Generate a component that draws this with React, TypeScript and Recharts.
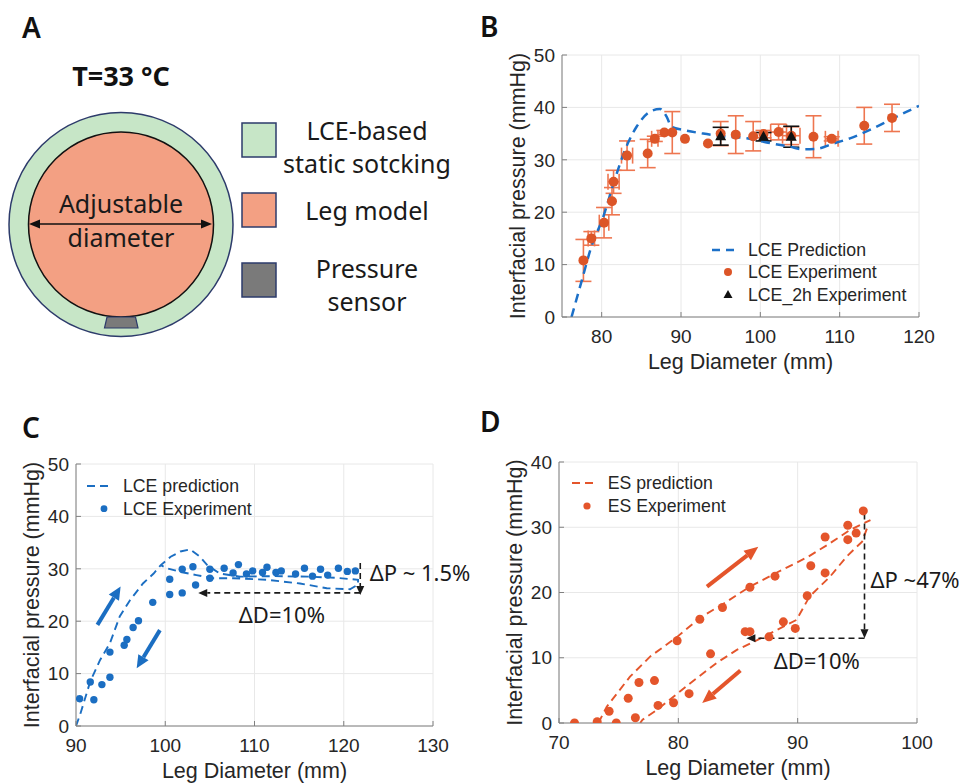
import React from "react";
import {
  ComposedChart,
  Line,
  Scatter,
  XAxis,
  YAxis,
  CartesianGrid,
  ErrorBar,
  ReferenceLine,
  ReferenceDot,
  Legend,
} from "recharts";

const FONT = "'Liberation Sans', Arial, Helvetica, sans-serif";
const ANNO_FONT = "'Noto Sans', 'Open Sans', sans-serif";
const INK = "#262626";

// ---------- panel B : LCE stocking, interfacial pressure vs leg diameter ----------
const bExpX = [77.7, 78.7, 80.3, 81.3, 81.5, 83.2, 85.8, 86.7, 87.9, 88.9, 90.5, 93.4, 95.0, 96.9, 99.1, 100.4, 102.3, 103.9, 106.7, 109.0, 113.1, 116.6];
const bExpY = [10.8, 15.0, 18.0, 22.1, 25.8, 30.8, 31.2, 34.0, 35.2, 35.2, 34.0, 33.1, 35.0, 34.8, 34.5, 34.9, 35.3, 34.6, 34.4, 34.0, 36.5, 38.0];
const bExpErrY = [4.0, 1.3, 2.9, 2.6, 2.2, 2.8, 2.7, 0.5, 0.4, 4.0, 0, 0, 2.3, 3.6, 2.8, 0.7, 1.5, 1.7, 4.0, 0.4, 3.5, 2.6];
const bExpErrX = [0, 0.4, 0.6, 0, 0.7, 0.7, 0, 0.4, 0, 0, 0, 0, 0, 0, 0, 0, 1.0, 1.1, 0, 0.8, 0, 0];

const b2hX = [95.0, 100.4, 103.9];
const b2hY = [34.5, 34.4, 34.4];
const b2hErrY = [1.7, 0.8, 2.0];

const bPredX = [76.2, 77.5, 78.7, 80.2, 81.5, 83.2, 84.4, 86.1, 87.35, 88.2, 88.8, 90.3, 92.8, 95.3, 98.3, 101.2, 103.7, 105.4, 107.1, 109.2, 111.3, 113.8, 116.7, 120.0];
const bPredY = [0.0, 7.0, 13.4, 19.1, 25.5, 32.8, 36.3, 39.2, 39.7, 38.2, 36.3, 35.7, 35.0, 34.5, 34.1, 33.2, 32.5, 32.0, 32.1, 33.1, 34.1, 35.7, 37.9, 40.3];

// ---------- panel C : LCE loading / unloading ----------
const cExpX = [90.4, 91.6, 92.0, 92.9, 93.8, 93.8, 95.4, 95.7, 96.4, 97.0, 98.6, 100.5, 100.5, 101.9, 101.9, 103.1, 103.4, 105.0, 105.0, 106.6, 107.6, 108.2, 109.1, 109.8, 110.9, 111.4, 112.4, 113.0, 114.6, 115.6, 116.5, 117.4, 118.2, 119.4, 120.4, 121.3];
const cExpY = [5.2, 8.4, 5.0, 7.9, 14.1, 9.3, 15.4, 16.5, 18.8, 20.1, 23.6, 28.0, 25.1, 29.9, 25.4, 30.4, 26.9, 29.9, 28.2, 30.1, 29.2, 30.8, 29.0, 29.6, 29.3, 30.3, 29.3, 29.6, 29.0, 30.1, 28.6, 29.9, 28.8, 30.1, 29.5, 29.6];

const cPredX = [90.0, 90.5, 91.6, 92.7, 93.8, 94.9, 96.05, 97.5, 98.7, 99.5, 100.6, 101.7, 102.8, 103.9, 104.7, 106.1, 108.4, 112.0, 116.0, 119.0, 121.6, 121.6, 120.7, 118.1, 115.1, 111.4, 107.6, 105.4, 103.5, 101.7, 100.2, 99.5];
const cPredY = [0.0, 2.4, 8.5, 12.6, 15.8, 20.9, 24.0, 27.2, 29.1, 30.7, 32.3, 33.3, 33.7, 32.3, 30.7, 29.1, 28.5, 28.6, 28.5, 28.3, 27.9, 27.0, 26.1, 26.3, 27.2, 27.9, 28.2, 28.2, 28.8, 29.4, 30.1, 30.7];

// ---------- panel D : elastic stocking loading / unloading ----------
const dExpX = [71.3, 73.2, 74.2, 74.8, 75.8, 76.4, 76.7, 78.0, 78.3, 79.6, 79.9, 80.9, 81.8, 82.7, 83.7, 85.6, 86.0, 86.0, 87.6, 88.1, 88.8, 89.8, 90.8, 91.1, 92.3, 92.3, 94.2, 94.2, 94.9, 95.5];
const dExpY = [0.0, 0.2, 1.8, 0.0, 3.8, 0.8, 6.2, 6.5, 2.7, 3.1, 12.6, 4.5, 15.9, 10.6, 17.7, 14.0, 14.0, 20.8, 13.2, 22.5, 15.5, 14.5, 19.5, 24.1, 23.0, 28.5, 30.3, 28.1, 29.1, 32.5];

const dUpX = [73.3, 74.0, 75.95, 77.65, 79.9, 81.8, 83.8, 86.0, 88.3, 90.8, 92.5, 94.4, 96.1];
const dUpY = [0.0, 2.5, 7.1, 10.2, 13.2, 16.1, 18.3, 20.9, 23.1, 25.4, 27.3, 29.6, 31.1];
const dDownX = [95.8, 95.4, 94.1, 92.7, 91.0, 89.9, 88.3, 86.6, 84.9, 83.2, 81.0, 79.3, 78.2, 77.0, 76.8];
const dDownY = [29.8, 27.8, 25.5, 22.4, 19.4, 15.8, 14.3, 12.7, 11.2, 9.2, 6.1, 3.6, 2.0, 0.5, 0.0];

// annotations (data coordinates)
const cArrowUp = [{ x: 92.4, y: 19.3 }, { x: 95.0, y: 26.6 }];
const cArrowDown = [{ x: 99.4, y: 18.3 }, { x: 96.8, y: 11.0 }];
const cDeltaP = [{ x: 121.85, y: 31.1 }, { x: 121.85, y: 25.0 }];
const cDeltaD = [{ x: 121.85, y: 25.4 }, { x: 103.7, y: 25.4 }];
const dArrowUp = [{ x: 82.4, y: 20.9 }, { x: 86.7, y: 27.0 }];
const dArrowDown = [{ x: 85.2, y: 8.05 }, { x: 82.0, y: 3.06 }];
const dDeltaP = [{ x: 95.6, y: 32.1 }, { x: 95.6, y: 13.0 }];
const dDeltaD = [{ x: 95.6, y: 13.0 }, { x: 85.7, y: 13.0 }];

const zip = (xs: number[], ys: number[], extra?: Record<string, number[]>) =>
  xs.map((x, i) => {
    const row: Record<string, number> = { x, y: ys[i] };
    if (extra) Object.keys(extra).forEach((k) => (row[k] = extra[k][i]));
    return row;
  });

const bExp = zip(bExpX, bExpY, { ey: bExpErrY, ex: bExpErrX });
const b2h = zip(b2hX, b2hY, { ey: b2hErrY });
const bPred = zip(bPredX, bPredY);
const cExp = zip(cExpX, cExpY);
const cPred = zip(cPredX, cPredY);
const dExp = zip(dExpX, dExpY);
const dUp = zip(dUpX, dUpY);
const dDown = zip(dDownX, dDownY);

const B_ORANGE = "#DC5528";
const B_ERR = "#EE7650";
const B_BLUE = "#1C70C8";
const C_BLUE = "#1B6EC2";
const D_ORANGE = "#E4552B";

const dot = (r: number, color: string) => (p: any) =>
  p.cx == null ? <g /> : <circle cx={p.cx} cy={p.cy} r={r} fill={color} />;

const tri = (p: any) =>
  p.cx == null ? (
    <g />
  ) : (
    <polygon
      points={`${p.cx},${p.cy - 6} ${p.cx + 5.5},${p.cy + 4} ${p.cx - 5.5},${p.cy + 4}`}
      fill="#111"
    />
  );

const arrow = (color: string, w: number, dash: string | undefined, headLen: number, headW: number) => (p: any) => {
  const { x1, y1, x2, y2 } = p;
  if ([x1, y1, x2, y2].some((v) => v == null || isNaN(v))) return <g />;
  const a = Math.atan2(y2 - y1, x2 - x1);
  const bx = x2 - headLen * Math.cos(a);
  const by = y2 - headLen * Math.sin(a);
  const nx = (-Math.sin(a) * headW) / 2;
  const ny = (Math.cos(a) * headW) / 2;
  return (
    <g>
      <line x1={x1} y1={y1} x2={bx} y2={by} stroke={color} strokeWidth={w} strokeDasharray={dash} />
      <polygon points={`${x2},${y2} ${bx + nx},${by + ny} ${bx - nx},${by - ny}`} fill={color} />
    </g>
  );
};

const blackArrow = arrow("#1a1a1a", 1.6, "6 4", 9, 8);

const xTitle = (p: any) => {
  const vb = p.viewBox || {};
  const cx = vb.x + vb.width / 2;
  return (
    <text x={cx} y={vb.y + 45} textAnchor="middle" dominantBaseline="central" fontSize={21.5} fontFamily={FONT} fill={INK}>
      Leg Diameter (mm)
    </text>
  );
};

const yTitle = (p: any) => {
  const vb = p.viewBox || {};
  const cx = vb.x + vb.width - 44;
  const cy = vb.y + vb.height / 2;
  return (
    <text
      x={cx}
      y={cy}
      transform={`rotate(-90 ${cx} ${cy})`}
      textAnchor="middle"
      dominantBaseline="central"
      fontSize={21.5}
      fontFamily={FONT}
      fill={INK}
    >
      Interfacial pressure (mmHg)
    </text>
  );
};

const tickStyle = { fontSize: 19, fill: INK, fontFamily: FONT };
const axisStroke = { stroke: "#808080" };
const xAxisStyle = { tick: tickStyle, tickSize: -5, tickMargin: 18, axisLine: axisStroke, tickLine: axisStroke };
const yAxisStyle = { tick: tickStyle, tickSize: -5, tickMargin: 12, axisLine: axisStroke, tickLine: axisStroke };

const legendText = (x: number, y: number, s: string) => (
  <text x={x} y={y} dominantBaseline="central" fontSize={17.7} fontFamily={FONT} fill={INK}>
    {s}
  </text>
);

const BLegend = () => (
  <svg width={250} height={72}>
    <line x1={7} y1={14} x2={33} y2={14} stroke={B_BLUE} strokeWidth={2.5} strokeDasharray="8 6" />
    {legendText(43, 14, "LCE Prediction")}
    <circle cx={23} cy={36} r={4} fill={B_ORANGE} />
    {legendText(43, 36, "LCE Experiment")}
    <polygon points="23,54 27.5,62 18.5,62" fill="#111" />
    {legendText(43, 59, "LCE_2h Experiment")}
  </svg>
);

const CLegend = () => (
  <svg width={220} height={50}>
    <line x1={7} y1={16} x2={33} y2={16} stroke={C_BLUE} strokeWidth={2} strokeDasharray="8 5" />
    {legendText(43, 16, "LCE prediction")}
    <circle cx={24} cy={38.7} r={3.4} fill={C_BLUE} />
    {legendText(43, 38.7, "LCE Experiment")}
  </svg>
);

const DLegend = () => (
  <svg width={220} height={50}>
    <line x1={7} y1={15} x2={32} y2={15} stroke={D_ORANGE} strokeWidth={2} strokeDasharray="8 5" />
    {legendText(42.7, 15, "ES prediction")}
    <circle cx={22} cy={38} r={3.6} fill={D_ORANGE} />
    {legendText(42.7, 38, "ES Experiment")}
  </svg>
);

const annoLabel = (value: string, position: "center" | "right") => ({
  value,
  position,
  offset: 0,
  fontSize: 22,
  fontFamily: ANNO_FONT,
  fill: "#1a1a1a",
});

function PanelA() {
  const boxes = [
    { y: 123, fill: "#c7e6c7" },
    { y: 193, fill: "#f3a083" },
    { y: 263, fill: "#7a7a7a" },
  ];
  const txt = { fontSize: 25, fontFamily: ANNO_FONT, fill: "#1a1a1a", textAnchor: "middle" as const };
  return (
    <svg width={470} height={400} style={{ position: "absolute", left: 0, top: 0 }}>
      <text x={22} y={38} fontSize={28} fontWeight={600} fontFamily={ANNO_FONT} fill="#111">A</text>
      <text x={121} y={86} textAnchor="middle" fontSize={27} fontWeight={700} fontFamily={ANNO_FONT} fill="#111">
        T=33 °C
      </text>
      <circle cx={121} cy={224.5} r={112} fill="#c7e6c7" stroke="#2d3b6b" strokeWidth={1.5} />
      <circle cx={121} cy={224.5} r={92.5} fill="#f3a083" stroke="#111" strokeWidth={1.5} />
      <polygon points="107,317 135.5,317 138,328 104.5,328" fill="#7a7a7a" stroke="#2d3b6b" strokeWidth={1.2} />
      <line x1={38} y1={224} x2={203} y2={224} stroke="#111" strokeWidth={1.6} />
      <polygon points="29,224 40,219.5 40,228.5" fill="#111" />
      <polygon points="212,224 201,219.5 201,228.5" fill="#111" />
      <text x={121} y={213} {...txt}>Adjustable</text>
      <text x={121} y={247} {...txt}>diameter</text>
      {boxes.map((b) => (
        <rect key={b.y} x={242} y={b.y} width={34} height={34} fill={b.fill} stroke="#2d3b6b" strokeWidth={1.5} />
      ))}
      <text x={367} y={140} {...txt}>LCE-based</text>
      <text x={367} y={173} {...txt}>static sotcking</text>
      <text x={367} y={220} {...txt}>Leg model</text>
      <text x={367} y={278} {...txt}>Pressure</text>
      <text x={367} y={311} {...txt}>sensor</text>
    </svg>
  );
}

const letter = (s: string, x: number, y: number) => (
  <div
    style={{
      position: "absolute",
      left: x,
      top: y,
      fontSize: 28,
      fontWeight: 600,
      fontFamily: ANNO_FONT,
      color: "#111",
      lineHeight: "28px",
    }}
  >
    {s}
  </div>
);

function PanelB() {
  return (
    <div style={{ position: "absolute", left: 470, top: 0 }}>
      <ComposedChart width={489} height={400} margin={{ top: 55, right: 40, bottom: 23, left: 32 }}>
        <CartesianGrid stroke="#e8e8e8" />
        <XAxis type="number" dataKey="x" domain={[75, 120]} ticks={[80, 90, 100, 110, 120]} allowDataOverflow height={60} {...xAxisStyle} label={xTitle} />
        <YAxis type="number" dataKey="y" domain={[0, 50]} ticks={[0, 10, 20, 30, 40, 50]} allowDataOverflow width={60} {...yAxisStyle} label={yTitle} />
        <Scatter data={bExp} fill={B_ORANGE} shape={dot(5, B_ORANGE)} isAnimationActive={false}>
          <ErrorBar dataKey="ey" direction="y" width={8} stroke={B_ERR} strokeWidth={1.6} />
          <ErrorBar dataKey="ex" direction="x" width={8} stroke={B_ERR} strokeWidth={1.6} />
        </Scatter>
        <Scatter data={b2h} fill="#111" shape={tri} isAnimationActive={false}>
          <ErrorBar dataKey="ey" direction="y" width={8} stroke="#111" strokeWidth={1.6} />
        </Scatter>
        <Line data={bPred} dataKey="y" type="monotone" stroke={B_BLUE} strokeWidth={2.5} strokeDasharray="9 6" dot={false} activeDot={false} isAnimationActive={false} />
        <Legend layout="horizontal" verticalAlign="middle" align="center" wrapperStyle={{ left: 235, top: 236, width: 250, height: 72 }} content={() => <BLegend />} />
      </ComposedChart>
    </div>
  );
}

function PanelC() {
  return (
    <div style={{ position: "absolute", left: 0, top: 400 }}>
      <ComposedChart width={480} height={383} margin={{ top: 64, right: 47, bottom: 7, left: 16 }}>
        <CartesianGrid stroke="#e8e8e8" />
        <XAxis type="number" dataKey="x" domain={[90, 130]} ticks={[90, 100, 110, 120, 130]} allowDataOverflow height={50} {...xAxisStyle} label={xTitle} />
        <YAxis type="number" dataKey="y" domain={[0, 50]} ticks={[0, 10, 20, 30, 40, 50]} allowDataOverflow width={60} {...yAxisStyle} label={yTitle} />
        <Scatter data={cExp} fill={C_BLUE} shape={dot(3.7, C_BLUE)} isAnimationActive={false} />
        <Line data={cPred} dataKey="y" type="linear" stroke={C_BLUE} strokeWidth={1.9} strokeDasharray="8 5" dot={false} activeDot={false} isAnimationActive={false} />
        <ReferenceLine segment={cArrowUp} shape={arrow(C_BLUE, 4, undefined, 13, 12)} />
        <ReferenceLine segment={cArrowDown} shape={arrow(C_BLUE, 4, undefined, 13, 12)} />
        <ReferenceLine segment={cDeltaP} shape={blackArrow} />
        <ReferenceLine segment={cDeltaD} shape={blackArrow} />
        <ReferenceDot x={113.07} y={21.2} r={0} fill="none" stroke="none" label={annoLabel("ΔD=10%", "center")} />
        <ReferenceDot x={122.9} y={29.2} r={0} fill="none" stroke="none" label={annoLabel("ΔP ~ 1.5%", "right")} />
        <Legend layout="horizontal" verticalAlign="middle" align="center" wrapperStyle={{ left: 80, top: 70, width: 220, height: 50 }} content={() => <CLegend />} />
      </ComposedChart>
    </div>
  );
}

function PanelD() {
  return (
    <div style={{ position: "absolute", left: 480, top: 400 }}>
      <ComposedChart width={479} height={383} margin={{ top: 62, right: 42, bottom: 10, left: 19 }}>
        <CartesianGrid stroke="#e8e8e8" />
        <XAxis type="number" dataKey="x" domain={[70, 100]} ticks={[70, 80, 90, 100]} allowDataOverflow height={50} {...xAxisStyle} label={xTitle} />
        <YAxis type="number" dataKey="y" domain={[0, 40]} ticks={[0, 10, 20, 30, 40]} allowDataOverflow width={60} {...yAxisStyle} label={yTitle} />
        <Scatter data={dExp} fill={D_ORANGE} shape={dot(4.5, D_ORANGE)} isAnimationActive={false} />
        <Line data={dUp} dataKey="y" type="linear" stroke={D_ORANGE} strokeWidth={1.9} strokeDasharray="8 5" dot={false} activeDot={false} isAnimationActive={false} />
        <Line data={dDown} dataKey="y" type="linear" stroke={D_ORANGE} strokeWidth={1.9} strokeDasharray="8 5" dot={false} activeDot={false} isAnimationActive={false} />
        <ReferenceLine segment={dArrowUp} shape={arrow(D_ORANGE, 4, undefined, 14, 12)} />
        <ReferenceLine segment={dArrowDown} shape={arrow(D_ORANGE, 4, undefined, 14, 12)} />
        <ReferenceLine segment={dDeltaP} shape={blackArrow} />
        <ReferenceLine segment={dDeltaD} shape={blackArrow} />
        <ReferenceDot x={96.1} y={21.9} r={0} fill="none" stroke="none" label={annoLabel("ΔP ~47%", "right")} />
        <ReferenceDot x={91.6} y={9.4} r={0} fill="none" stroke="none" label={annoLabel("ΔD=10%", "center")} />
        <Legend layout="horizontal" verticalAlign="middle" align="center" wrapperStyle={{ left: 85, top: 68, width: 220, height: 50 }} content={() => <DLegend />} />
      </ComposedChart>
    </div>
  );
}

export default function App() {
  return (
    <div style={{ position: "absolute", left: 0, top: 0, width: 959, height: 783, background: "#fff", overflow: "hidden" }}>
      <PanelA />
      <PanelB />
      <PanelC />
      <PanelD />
      {letter("B", 480, 12)}
      {letter("C", 22, 413)}
      {letter("D", 480, 407)}
    </div>
  );
}
